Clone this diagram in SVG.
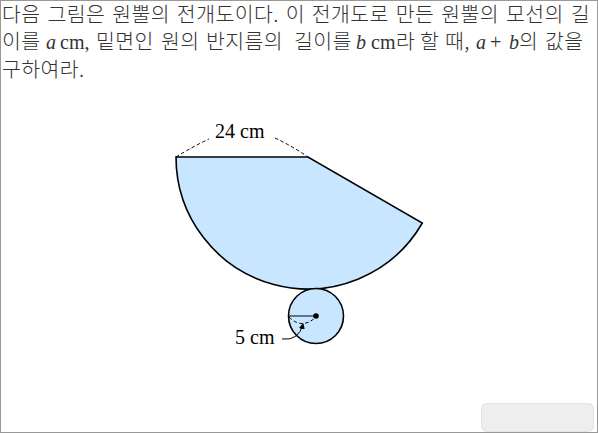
<svg xmlns="http://www.w3.org/2000/svg" width="598" height="433" viewBox="0 0 598 433">
<style>
.t{font-family:"Noto Sans CJK KR","Liberation Serif",sans-serif;font-size:20.5px;fill:#333;font-weight:300;letter-spacing:.4px;word-spacing:2px}
.m{font-family:"Liberation Serif",serif;font-size:20px;fill:#333}
.i{font-style:italic}
.l{font-family:"Liberation Serif",serif;font-size:20px;fill:#000}
.s{fill:#c8e6ff;stroke:#000;stroke-width:1.6}
.d{fill:none;stroke:#000;stroke-width:1;stroke-dasharray:3.5 2.5}
</style>
<defs><marker id="a" markerWidth="7" markerHeight="7" refX="5" refY="3" orient="auto"><path d="M0 0L6 3L0 6Z" fill="#000"/></marker></defs>
<rect x="0.5" y="0.5" width="597" height="432" fill="#fff" stroke="#999"/>
<g id="text">
<text class="t" x="2" y="22">다음 그림은 원뿔의 전개도이다. 이 전개도로 만든 원뿔의 모선의 길</text>
<text class="t" x="2" y="49">이를</text><text class="m i" x="46" y="49">a</text><text class="m" x="60" y="49">cm,</text>
<text class="t" x="96" y="49">밑면인</text><text class="t" x="161" y="49">원의</text><text class="t" x="206" y="49">반지름의</text><text class="t" x="294" y="49">길이를</text><text class="m i" x="356" y="49">b</text><text class="m" x="371" y="49">cm</text><text class="t" x="396" y="49">라</text><text class="t" x="420" y="49">할</text><text class="t" x="445" y="49">때,</text><text class="m i" x="476" y="49">a</text><text class="m" x="490" y="49">+</text><text class="m i" x="509" y="49">b</text><text class="t" x="519" y="49">의</text><text class="t" x="545" y="49">값을</text>
<text class="t" x="2" y="77">구하여라.</text>
</g>
<g id="sector">
<path class="s" d="M176 157H308L422.3 223A132 132 0 0 1 176 157Z"/>
<path class="d" d="M176 157Q192 147 209 139"/>
<path class="d" d="M275 138Q292 146 308 157"/>
<text class="l" x="215" y="138">24 cm</text>
</g>
<g id="base">
<circle class="s" cx="316" cy="316" r="27.5"/>
<circle cx="316" cy="316" r="2.8" fill="#000"/>
<path d="M288.500 316H316" fill="none" stroke="#000" stroke-width="1"/>
<path class="d" d="M289 317Q302 330 316 317"/>
<text class="l" x="235" y="344">5 cm</text>
</g>
<g id="connectors">
<path d="M282 339Q299 341 303 324" fill="none" stroke="#000" stroke-width="1" marker-end="url(#a)"/>
</g>
<rect id="button" x="481.500" y="403.500" width="112" height="28" rx="5" fill="#eee" stroke="#e4e4e4"/>
</svg>
